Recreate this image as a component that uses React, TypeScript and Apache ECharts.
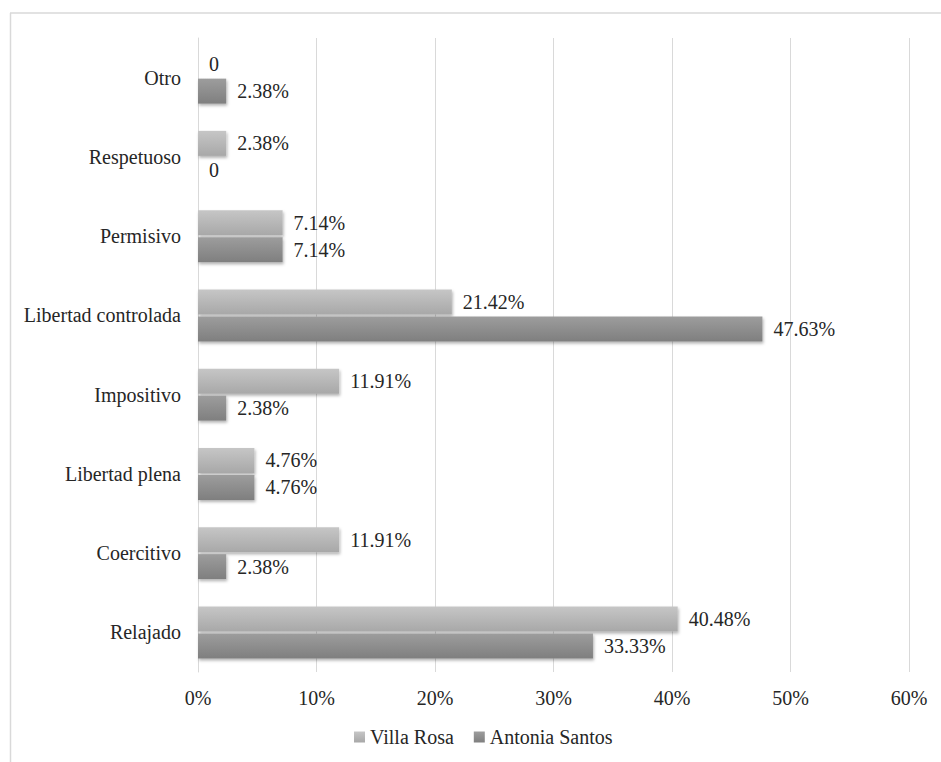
import React, { useEffect, useRef } from "react";
import * as echarts from "echarts";

const categories = ["Relajado", "Coercitivo", "Libertad plena", "Impositivo", "Libertad controlada", "Permisivo", "Respetuoso", "Otro"];
const villaRosa = [40.48, 11.91, 4.76, 11.91, 21.42, 7.14, 2.38, 0];
const antoniaSantos = [33.33, 2.38, 4.76, 2.38, 47.63, 7.14, 0, 2.38];
const xTicks = [0, 10, 20, 30, 40, 50, 60];

const FONT = "Liberation Serif, Times New Roman, serif";

export default function App() {
  const ref = useRef<HTMLDivElement>(null);
  useEffect(() => {
    if (!ref.current) return;
    const chart = echarts.init(ref.current, null, { renderer: "svg" });
    const lightGrad = new echarts.graphic.LinearGradient(0, 0, 0, 1, [
      { offset: 0, color: "#c6c6c6" },
      { offset: 1, color: "#a8a8a8" },
    ]);
    const darkGrad = new echarts.graphic.LinearGradient(0, 0, 0, 1, [
      { offset: 0, color: "#9d9d9d" },
      { offset: 1, color: "#7f7f7f" },
    ]);
    const labelFmt = (p: any) => (p.value === 0 ? "0" : p.value.toFixed(2) + "%");
    const labelCfg = {
      show: true,
      position: "right",
      distance: 11,
      fontFamily: FONT,
      fontSize: 20,
      color: "#262626",
      formatter: labelFmt,
    };
    chart.setOption({
      animation: false,
      textStyle: { fontFamily: FONT },
      graphic: [
        { type: "line", shape: { x1: 10, y1: 13, x2: 941, y2: 13 }, style: { stroke: "#d9d9d9", lineWidth: 1.5 } },
        { type: "line", shape: { x1: 10.5, y1: 13, x2: 10.5, y2: 762 }, style: { stroke: "#d9d9d9", lineWidth: 1.5 } },
      ],
      grid: { left: 198, right: 32, top: 38, bottom: 90 },
      legend: {
        data: ["Villa Rosa", "Antonia Santos"],
        top: 722,
        left: 349,
        itemWidth: 11,
        itemHeight: 11,
        itemGap: 20,
        icon: "rect",
        textStyle: { fontFamily: FONT, fontSize: 20, color: "#262626" },
      },
      xAxis: {
        type: "value",
        min: 0,
        max: 60,
        interval: 10,
        axisLine: { show: false },
        axisTick: { show: false },
        axisLabel: {
          fontFamily: FONT,
          fontSize: 20,
          color: "#262626",
          margin: 16,
          formatter: (v: number) => (xTicks.includes(v) ? v + "%" : ""),
        },
        splitLine: { lineStyle: { color: "#d9d9d9", width: 1 } },
      },
      yAxis: {
        type: "category",
        data: categories,
        axisLine: { show: true, lineStyle: { color: "#d9d9d9", width: 1 } },
        axisTick: { show: false },
        axisLabel: { fontFamily: FONT, fontSize: 20, color: "#262626", margin: 17 },
      },
      series: [
        {
          name: "Villa Rosa",
          type: "bar",
          data: villaRosa,
          barWidth: 25,
          barGap: "8%",
          itemStyle: {
            color: lightGrad,
            shadowColor: "rgba(0,0,0,0.3)",
            shadowBlur: 3,
            shadowOffsetY: 2,
            shadowOffsetX: 1,
          },
          label: labelCfg,
        },
        {
          name: "Antonia Santos",
          type: "bar",
          data: antoniaSantos,
          barWidth: 25,
          barGap: "8%",
          itemStyle: {
            color: darkGrad,
            shadowColor: "rgba(0,0,0,0.3)",
            shadowBlur: 3,
            shadowOffsetY: 2,
            shadowOffsetX: 1,
          },
          label: labelCfg,
        },
      ],
    });
    return () => chart.dispose();
  }, []);
  return (
    <div
      ref={ref}
      style={{ position: "fixed", left: 0, top: 0, width: 941, height: 762, background: "#fff" }}
    />
  );
}
